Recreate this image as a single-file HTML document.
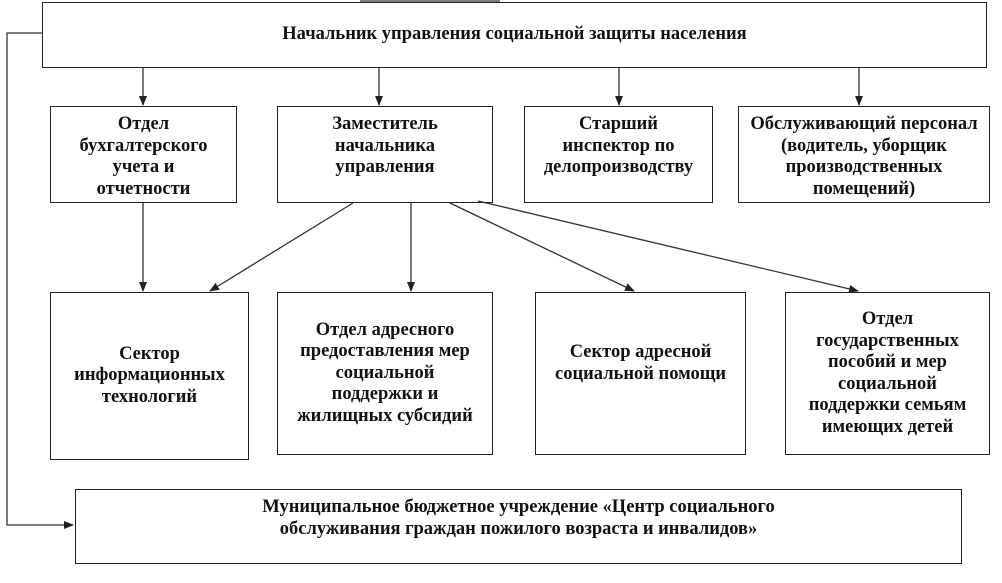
<!DOCTYPE html>
<html><head><meta charset="utf-8"><style>
body{margin:0;width:1002px;height:583px;background:#fff;position:relative;overflow:hidden;font-family:"Liberation Serif",serif;font-weight:bold;font-size:18.5px;color:#111}
.b{position:absolute;border:1.5px solid #222;box-sizing:border-box;display:flex;justify-content:center;text-align:center;line-height:21.5px;white-space:nowrap}
svg{position:absolute;left:0;top:0}
</style></head><body>
<svg width="1002" height="583">
<defs><marker id="a" markerWidth="10" markerHeight="10" refX="9" refY="5" orient="auto" markerUnits="userSpaceOnUse"><path d="M0,1 L10,5 L0,9 z" fill="#222"/></marker></defs>
<g stroke="#333" stroke-width="1.3" fill="none">
<path d="M360,1 H500"/>
<path d="M42,33 H7 V525 H73" marker-end="url(#a)"/>
<line x1="143" y1="67" x2="143" y2="105" marker-end="url(#a)"/>
<line x1="379" y1="67" x2="379" y2="105" marker-end="url(#a)"/>
<line x1="619" y1="67" x2="619" y2="105" marker-end="url(#a)"/>
<line x1="859" y1="67" x2="859" y2="105" marker-end="url(#a)"/>
<line x1="143" y1="202" x2="143" y2="291" marker-end="url(#a)"/>
<line x1="353" y1="203" x2="210" y2="291" marker-end="url(#a)"/>
<line x1="411" y1="203" x2="411" y2="291" marker-end="url(#a)"/>
<line x1="450" y1="203" x2="634" y2="291" marker-end="url(#a)"/>
<line x1="478" y1="201" x2="858" y2="291" marker-end="url(#a)"/>
</g></svg>
<div class="b" style="left:42px;top:2px;width:945px;height:66px;align-items:center">Начальник управления социальной защиты населения</div>
<div class="b" style="left:50px;top:106px;width:187px;height:97px;padding-top:7px">Отдел<br>бухгалтерского<br>учета и<br>отчетности</div>
<div class="b" style="left:277px;top:106px;width:216px;height:97px;padding-top:7px">Заместитель<br>начальника<br>управления</div>
<div class="b" style="left:524px;top:106px;width:189px;height:97px;padding-top:7px">Старший<br>инспектор по<br>делопроизводству</div>
<div class="b" style="left:738px;top:106px;width:252px;height:97px;padding-top:7px">Обслуживающий персонал<br>(водитель, уборщик<br>производственных<br>помещений)</div>
<div class="b" style="left:50px;top:292px;width:199px;height:168px;align-items:center">Сектор<br>информационных<br>технологий</div>
<div class="b" style="left:277px;top:292px;width:216px;height:163px;align-items:center">Отдел адресного<br>предоставления мер<br>социальной<br>поддержки и<br>жилищных субсидий</div>
<div class="b" style="left:535px;top:292px;width:211px;height:163px;align-items:center;padding-bottom:20px">Сектор адресной<br>социальной помощи</div>
<div class="b" style="left:785px;top:292px;width:205px;height:163px;align-items:center">Отдел<br>государственных<br>пособий и мер<br>социальной<br>поддержки семьям<br>имеющих детей</div>
<div class="b" style="left:75px;top:489px;width:887px;height:75px;padding-top:7px">Муниципальное бюджетное учреждение «Центр социального<br>обслуживания граждан пожилого возраста и инвалидов»</div>
</body></html>
